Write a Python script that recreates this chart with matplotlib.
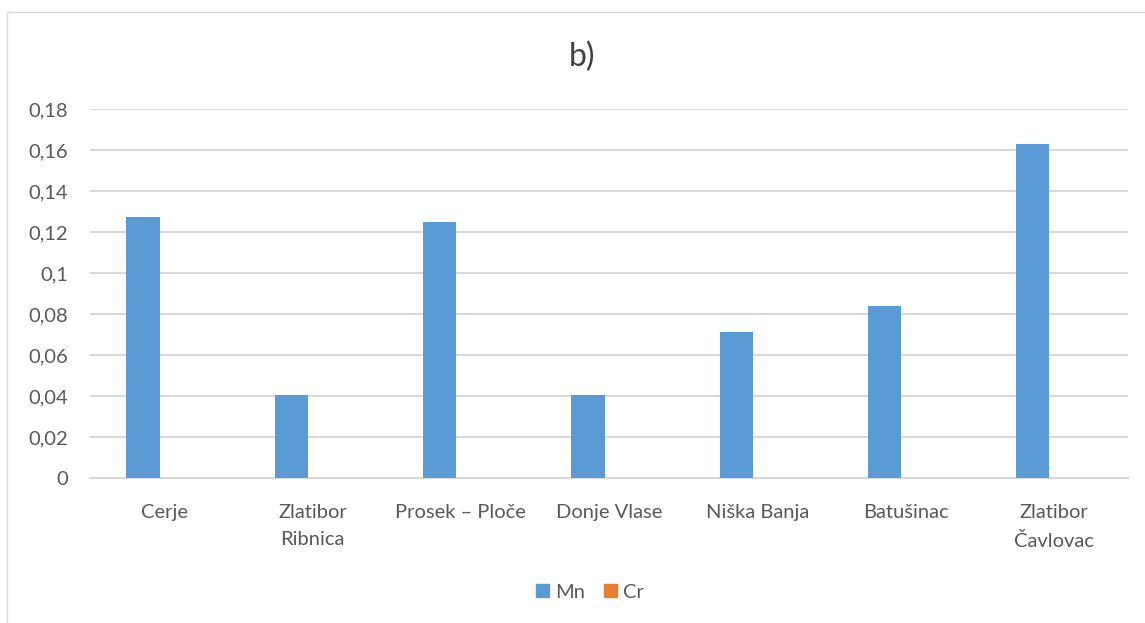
import matplotlib
matplotlib.use("Agg")
import matplotlib.pyplot as plt
from matplotlib.patches import Rectangle, Patch
import numpy as np

categories = ["Cerje", "Zlatibor\nRibnica", "Prosek – Ploče", "Donje Vlase",
              "Niška Banja", "Batušinac", "Zlatibor\nČavlovac"]
mn_values = [0.1272, 0.0406, 0.1249, 0.0405, 0.0714, 0.0838, 0.1631]
cr_values = [0, 0, 0, 0, 0, 0, 0]
yticks = [0, 0.02, 0.04, 0.06, 0.08, 0.1, 0.12, 0.14, 0.16, 0.18]
ytick_labels = ["0", "0,02", "0,04", "0,06", "0,08", "0,1", "0,12", "0,14", "0,16", "0,18"]

plt.rcParams['font.family'] = ['Lato', 'DejaVu Sans']
W, H = 1145, 623
fig = plt.figure(figsize=(W/100, H/100), dpi=100)
fig.patch.set_facecolor("white")

# chart border
fig.patches.append(Rectangle((7/W, -0.1), 1.2, (H-12)/H + 0.1, transform=fig.transFigure,
                             fill=False, edgecolor="#D9D9D9", linewidth=1.0))

ax = fig.add_axes([90/W, 1-478/H, (1128-90)/W, (478-109)/H])
x = np.arange(len(categories))
bw = 0.225
off = 0.142
ax.bar(x - off, mn_values, bw, color="#5B9BD5", label="Mn", zorder=3)
ax.bar(x - off + bw, cr_values, bw, color="#ED7D31", label="Cr", zorder=3)

ax.set_xlim(-0.5, len(categories) - 0.5)
ax.set_ylim(0, 0.18)
ax.set_yticks(yticks)
ax.set_yticklabels(ytick_labels)
ax.set_xticks(x)
ax.set_xticklabels(categories, linespacing=1.7)
ax.tick_params(axis='both', length=0, labelsize=14.5, labelcolor="#595959")
ax.tick_params(axis='y', pad=16)
ax.tick_params(axis='x', pad=19)
ax.grid(axis='y', color="#D9D9D9", linewidth=1.5, zorder=0)
for s in ["top", "right", "left"]:
    ax.spines[s].set_visible(False)
ax.spines["bottom"].set_color("#D9D9D9")
ax.spines["bottom"].set_linewidth(1.5)

fig.text(582/W, 1-57/H, "b)", ha="center", va="center", fontsize=23, color="#404040")

handles = [Patch(color="#5B9BD5", label="Mn"), Patch(color="#ED7D31", label="Cr")]
fig.legend(handles=handles, loc="center", bbox_to_anchor=(590/W, 1-592/H), ncol=2,
           frameon=False, fontsize=14.5, handlelength=0.65, handleheight=0.65,
           handletextpad=0.3, columnspacing=0.9, labelcolor="#595959")

fig.savefig("out.png", dpi=100, facecolor="white")
